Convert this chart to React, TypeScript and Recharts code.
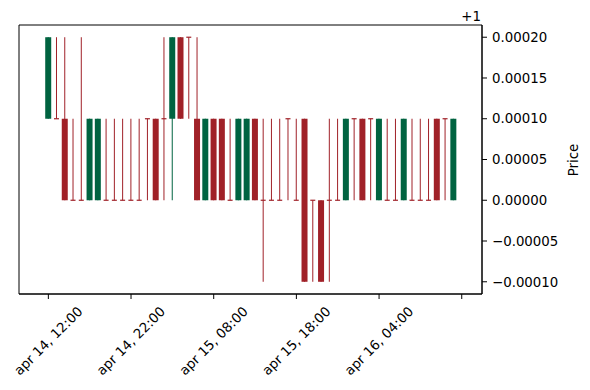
import { Bar, ComposedChart, ReferenceArea, XAxis, YAxis } from 'recharts';

// hourly candles, apr 14 12:00 .. apr 16 13:00
const opens = [
  1.0001, 1.0001, 1.0001, 1.0, 1.0, 1.0, 1.0, 1.0, 1.0, 1.0,
  1.0, 1.0, 1.0001, 1.0001, 1.0001, 1.0001, 1.0002, 1.0002, 1.0001, 1.0,
  1.0001, 1.0001, 1.0, 1.0, 1.0, 1.0001, 1.0, 1.0, 1.0, 1.0001,
  1.0, 1.0001, 1.0, 1.0, 1.0, 1.0, 1.0, 1.0001, 1.0001, 1.0001,
  1.0, 1.0, 1.0, 1.0, 1.0, 1.0, 1.0, 1.0001, 1.0001, 1.0,
];
const highs = [
  1.0002, 1.0002, 1.0002, 1.0001, 1.0002, 1.0001, 1.0001, 1.0001, 1.0001, 1.0001,
  1.0001, 1.0001, 1.0001, 1.0001, 1.0002, 1.0002, 1.0002, 1.0002, 1.0002, 1.0001,
  1.0001, 1.0001, 1.0001, 1.0001, 1.0001, 1.0001, 1.0001, 1.0001, 1.0001, 1.0001,
  1.0001, 1.0001, 1.0, 1.0, 1.0001, 1.0001, 1.0001, 1.0001, 1.0001, 1.0001,
  1.0001, 1.0001, 1.0001, 1.0001, 1.0001, 1.0001, 1.0001, 1.0001, 1.0001, 1.0001,
];
const lows = [
  1.0001, 1.0001, 1.0, 1.0, 1.0, 1.0, 1.0, 1.0, 1.0, 1.0,
  1.0, 1.0, 1.0, 1.0, 1.0, 1.0, 1.0001, 1.0001, 1.0, 1.0,
  1.0, 1.0, 1.0, 1.0, 1.0, 1.0, 0.9999, 1.0, 1.0, 1.0,
  1.0, 0.9999, 0.9999, 0.9999, 0.9999, 1.0, 1.0, 1.0, 1.0, 1.0,
  1.0, 1.0, 1.0, 1.0, 1.0, 1.0, 1.0, 1.0, 1.0, 1.0,
];
const closes = [
  1.0002, 1.0001, 1.0, 1.0, 1.0, 1.0001, 1.0001, 1.0, 1.0, 1.0,
  1.0, 1.0, 1.0001, 1.0, 1.0001, 1.0002, 1.0001, 1.0002, 1.0, 1.0001,
  1.0, 1.0, 1.0, 1.0001, 1.0001, 1.0, 1.0, 1.0, 1.0, 1.0001,
  1.0, 0.9999, 1.0, 0.9999, 1.0, 1.0, 1.0001, 1.0001, 1.0, 1.0001,
  1.0001, 1.0, 1.0, 1.0001, 1.0, 1.0, 1.0, 1.0, 1.0001, 1.0001,
];

const tickIndex = [0, 10, 20, 30, 40, 50];
const tickLabels = ['apr 14, 12:00', 'apr 14, 22:00', 'apr 15, 08:00', 'apr 15, 18:00', 'apr 16, 04:00', ''];
const priceTicks = [0.9999, 0.99995, 1.0, 1.00005, 1.0001, 1.00015, 1.0002];

const UP = '#006340';
const DOWN = '#A02128';
const FONT = 'DejaVu Sans, sans-serif';

const data = opens.map((open, i) => ({
  idx: i,
  open,
  high: highs[i],
  low: lows[i],
  close: closes[i],
  range: [lows[i], highs[i]],
}));

function Candle(props: any) {
  const { x, y, width, height, payload } = props;
  if (!payload) return null;
  const { open, close, high, low } = payload;
  const cx = x + width / 2;
  const span = high - low;
  const toPx = (v: number) => (span > 0 ? y + ((high - v) / span) * height : y);
  const color = close > open ? UP : DOWN;
  const yo = toPx(open);
  const yc = toPx(close);
  const top = Math.min(yo, yc);
  const bh = Math.abs(yo - yc);
  return (
    <g>
      <line x1={cx} x2={cx} y1={y} y2={y + height} stroke={color} strokeWidth={1} />
      {bh < 0.5 ? (
        <line x1={cx - 2.5} x2={cx + 2.5} y1={top} y2={top} stroke={color} strokeWidth={1.2} />
      ) : (
        <rect x={cx - 3} y={top} width={6} height={bh} fill={color} />
      )}
    </g>
  );
}

function DateTick(props: any) {
  const { x, y, payload } = props;
  const i = tickIndex.indexOf(payload.value);
  const label = i >= 0 ? tickLabels[i] : '';
  const cy = y + 40;
  return (
    <text
      x={x}
      y={cy}
      textAnchor="middle"
      dominantBaseline="central"
      transform={`rotate(-45 ${x} ${cy})`}
      fontSize={13.33}
      fontFamily={FONT}
      fill="#000"
    >
      {label}
    </text>
  );
}

const fmtOffset = (v: number) => {
  const s = (v - 1).toFixed(5);
  return s.startsWith('-') ? '\u2212' + s.slice(1) : s;
};

export default function App() {
  return (
    <div style={{ position: 'absolute', left: 0, top: 0, width: 590, height: 390, background: '#fff' }}>
      <ComposedChart
        width={590}
        height={390}
        data={data}
        margin={{ top: 25, right: 28, left: 19, bottom: 6 }}
      >
        <XAxis
          dataKey="idx"
          type="number"
          domain={[-3.55, 52.45]}
          ticks={tickIndex}
          allowDataOverflow
          height={90}
          tickSize={5}
          tickLine={{ stroke: '#000' }}
          axisLine={{ stroke: '#000' }}
          tick={<DateTick />}
          interval={0}
        />
        <YAxis
          orientation="right"
          type="number"
          domain={[0.999885, 1.000215]}
          ticks={priceTicks}
          allowDataOverflow
          width={80}
          tickSize={5}
          tickMargin={5}
          tickLine={{ stroke: '#000' }}
          axisLine={{ stroke: '#000' }}
          tickFormatter={fmtOffset}
          tick={{ fontSize: 13.33, fontFamily: FONT, fill: '#000' }}
          interval={0}
        />
        <Bar dataKey="range" barSize={6} shape={<Candle />} isAnimationActive={false} />
        <ReferenceArea
          x1={-3.55}
          x2={52.45}
          y1={0.999885}
          y2={1.000215}
          fill="none"
          stroke="#000"
          strokeWidth={1}
          ifOverflow="visible"
        />
        <text x={481} y={20.5} textAnchor="end" fontSize={13.33} fontFamily={FONT} fill="#000">
          +1
        </text>
        <text
          x={573}
          y={160}
          textAnchor="middle"
          dominantBaseline="central"
          transform="rotate(-90 573 160)"
          fontSize={13.33}
          fontFamily={FONT}
          fill="#000"
        >
          Price
        </text>
      </ComposedChart>
    </div>
  );
}
